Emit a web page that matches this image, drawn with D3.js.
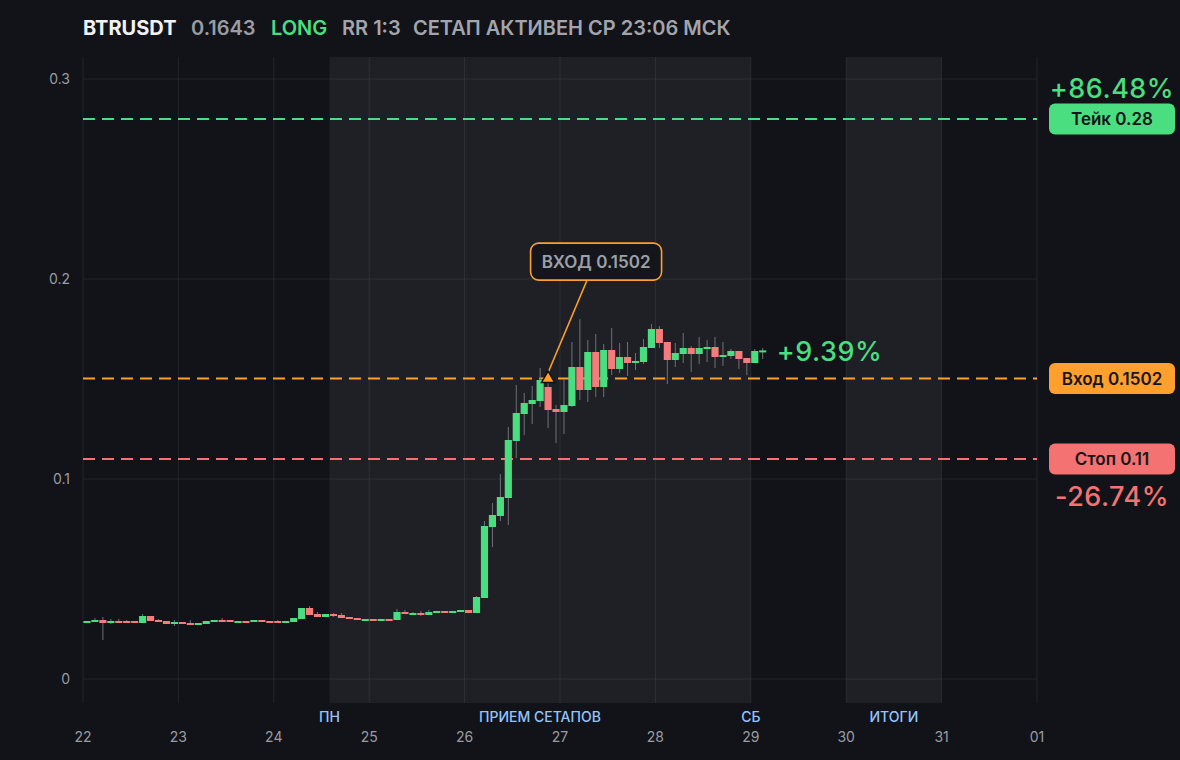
<!DOCTYPE html>
<html><head><meta charset="utf-8">
<script src="https://cdn.jsdelivr.net/npm/d3@7"></script>
<style>
html,body{margin:0;padding:0;background:#121318;}
svg{display:block;font-family:Inter,"Noto Sans",sans-serif;}
</style></head>
<body>
<svg id="chart" width="1180" height="760"></svg>
<script>
// ---------- DATA ----------
const dayLabels = ["22","23","24","25","26","27","28","29","30","31","01"];
const yTicks = [0, 0.1, 0.2, 0.3];
const candlesPerDay = 12; // 2h candles
const opens = [
0.028,0.0285,0.0295,0.028,0.029,0.029,0.029,0.028,0.0315,0.0295,
0.029,0.0275,0.0285,0.028,0.027,0.0275,0.0285,0.0295,0.0295,0.028,
0.029,0.0285,0.0295,0.029,0.029,0.028,0.0285,0.030,0.0355,0.0325,
0.031,0.0325,0.032,0.031,0.0305,0.029,0.030,0.029,0.030,0.0295,
0.0335,0.032,0.033,0.032,0.033,0.034,0.033,0.0335,0.0345,0.033,
0.0405,0.076,0.0815,0.0905,0.119,0.1325,0.1375,0.139,0.146,0.135,
0.1335,0.1365,0.156,0.1445,0.1635,0.146,0.1645,0.155,0.161,0.158,
0.1585,0.1655,0.175,0.1685,0.1595,0.1625,0.1655,0.1625,0.165,0.166,
0.161,0.1615,0.164,0.1605,0.158,0.1635];
const highs = [
0.029,0.0305,0.031,0.030,0.030,0.0295,0.029,0.0325,0.0315,0.030,
0.029,0.0295,0.0285,0.0295,0.028,0.029,0.0295,0.0305,0.0295,0.029,
0.029,0.0295,0.0295,0.029,0.0295,0.029,0.0305,0.0355,0.0365,0.0335,
0.0325,0.033,0.033,0.031,0.0305,0.030,0.030,0.030,0.030,0.035,
0.0345,0.0335,0.034,0.0345,0.034,0.034,0.034,0.0345,0.0345,0.0415,
0.079,0.088,0.1025,0.126,0.147,0.143,0.1465,0.1555,0.152,0.137,
0.150,0.1685,0.180,0.1695,0.1725,0.1675,0.1755,0.168,0.1685,0.163,
0.170,0.1775,0.1765,0.1685,0.168,0.173,0.1665,0.171,0.1695,0.171,
0.1685,0.165,0.164,0.1605,0.165,0.1655];
const lows = [
0.028,0.0285,0.0195,0.0275,0.028,0.028,0.028,0.028,0.029,0.0285,
0.0275,0.0265,0.0275,0.027,0.027,0.0275,0.0285,0.0285,0.0285,0.028,
0.028,0.0285,0.0285,0.028,0.028,0.028,0.0285,0.030,0.032,0.031,
0.031,0.031,0.0305,0.030,0.0295,0.029,0.029,0.029,0.029,0.0295,
0.0325,0.032,0.0315,0.032,0.033,0.033,0.033,0.0335,0.033,0.033,
0.0405,0.066,0.079,0.077,0.1105,0.122,0.1275,0.136,0.1255,0.118,
0.1225,0.136,0.1395,0.1385,0.141,0.141,0.152,0.153,0.1515,0.1545,
0.1575,0.1655,0.1655,0.1475,0.156,0.158,0.1535,0.1575,0.1585,0.1555,
0.1565,0.160,0.155,0.152,0.158,0.160];
const closes = [
0.029,0.0295,0.028,0.029,0.028,0.028,0.028,0.0315,0.029,0.0285,
0.0275,0.0285,0.0275,0.027,0.028,0.029,0.0295,0.0285,0.0285,0.029,
0.028,0.0295,0.0285,0.028,0.028,0.029,0.0305,0.0355,0.032,0.031,
0.0325,0.0315,0.0305,0.030,0.0295,0.030,0.029,0.030,0.029,0.0335,
0.0325,0.033,0.032,0.0335,0.034,0.033,0.034,0.0345,0.033,0.041,
0.0765,0.082,0.091,0.1195,0.133,0.138,0.1395,0.1495,0.1345,0.1335,
0.137,0.156,0.1445,0.1635,0.146,0.1645,0.155,0.161,0.158,0.159,
0.166,0.175,0.168,0.1595,0.163,0.1655,0.1625,0.1655,0.166,0.161,
0.162,0.164,0.160,0.158,0.164,0.1643];

const levelNames = ["Тейк","Вход","Стоп"];
const levelValues = [0.28, 0.1502, 0.11];
const levelPct = ["+86.48%", null, "-26.74%"];
const levelColors = ["#4ade80","#ff9f2e","#f47372"];

const zoneStarts = [2.583, 8];
const zoneEnds = [7, 9];
const zoneLabelText = ["ПН","ПРИЕМ СЕТАПОВ","СБ","ИТОГИ"];
const zoneLabelPos = [2.583, 4.79, 7, 8.5];

const entryCandle = 58;
const entryPrice = 0.1502;
const lastPrice = 0.1643;
const lastPctText = "+9.39%";

const headerParts = ["BTRUSDT","0.1643","LONG","RR 1:3","СЕТАП АКТИВЕН СР 23:06 МСК"];
const headerColors = ["#f2f2f4","#9a9ca4","#4ade80","#a3a5ad","#a3a5ad"];
const headerWeights = [700,600,600,600,600];

// ---------- CHART ----------
const W = 1180, H = 760;
const plot = {l:83, r:1037, t:57, b:703};
const svg = d3.select("#chart");
svg.append("rect").attr("width",W).attr("height",H).attr("fill","#121318");

const x = d3.scaleLinear().domain([0,10]).range([plot.l, plot.r]);
const y = d3.scaleLinear().domain([-0.012, 0.311]).range([plot.b, plot.t]);

// zones
svg.append("g").selectAll("rect").data(zoneStarts).join("rect")
  .attr("x", (d)=>x(d)).attr("width",(d,i)=>x(zoneEnds[i])-x(d))
  .attr("y", plot.t).attr("height", plot.b-plot.t)
  .attr("fill","#1f2025");

// grid
const grid = svg.append("g");
grid.selectAll("line.v").data(dayLabels).join("line").attr("class","v")
  .attr("x1",(d,i)=>x(i)).attr("x2",(d,i)=>x(i))
  .attr("y1",plot.t).attr("y2",plot.b)
  .attr("stroke","rgba(255,255,255,0.075)").attr("stroke-width",1);
grid.selectAll("line.h").data(yTicks).join("line").attr("class","h")
  .attr("x1",plot.l).attr("x2",plot.r)
  .attr("y1",d=>y(d)).attr("y2",d=>y(d))
  .attr("stroke","rgba(255,255,255,0.075)").attr("stroke-width",1);

// y axis labels
svg.append("g").selectAll("text").data(yTicks).join("text")
  .attr("x",70).attr("y",d=>y(d)).attr("dy","0.35em")
  .attr("text-anchor","end").attr("fill","#9a9ca4")
  .attr("font-size",14).text(d=>d===0?"0":d3.format(".1f")(d));

// x axis labels
svg.append("g").selectAll("text").data(dayLabels).join("text")
  .attr("x",(d,i)=>x(i)).attr("y",737).attr("dy","0.35em")
  .attr("text-anchor","middle").attr("fill","#9a9ca4")
  .attr("font-size",14).text(d=>d);

// zone labels
svg.append("g").selectAll("text").data(zoneLabelText).join("text")
  .attr("x",(d,i)=>x(zoneLabelPos[i])).attr("y",717).attr("dy","0.35em")
  .attr("text-anchor","middle").attr("fill","#93c5fd")
  .attr("font-size",14).attr("font-weight",500).text(d=>d);

// level lines
svg.append("g").selectAll("line").data(levelValues).join("line")
  .attr("x1",plot.l).attr("x2",plot.r)
  .attr("y1",d=>y(d)).attr("y2",d=>y(d))
  .attr("stroke",(d,i)=>levelColors[i]).attr("stroke-width",2)
  .attr("stroke-dasharray","12 7");

// candles
const step = x(1/candlesPerDay) - x(0);
const cg = svg.append("g");
opens.forEach((o,i)=>{
  const c = closes[i];
  const x0 = x(i/candlesPerDay);
  const cx = x0 + step/2;
  const up = c >= o;
  cg.append("line").attr("x1",cx).attr("x2",cx)
    .attr("y1",y(highs[i])).attr("y2",y(lows[i]))
    .attr("stroke","#6e7179").attr("stroke-width",1);
  const top = y(Math.max(o,c)), bot = y(Math.min(o,c));
  cg.append("rect").attr("x",x0+0.4).attr("width",step-0.8)
    .attr("y",top).attr("height",Math.max(2,bot-top))
    .attr("fill", up ? "#4ade80" : "#f47c7c");
});

// last pct
const lastX = x((opens.length)/candlesPerDay);
svg.append("text").attr("x",lastX+10).attr("y",y(lastPrice)+1).attr("dy","0.35em")
  .attr("fill","#4ade80").attr("font-size",27).attr("font-weight",500)
  .attr("letter-spacing",0.5).text(lastPctText);

// entry marker + callout
const mx = x(entryCandle/candlesPerDay) + step/2;
const my = y(entryPrice);
const bx = mx + 48, by = my - 117;
const bw = 131, bh = 37;
svg.append("line").attr("x1",bx-9).attr("y1",by+bh/2).attr("x2",mx).attr("y2",my-6)
  .attr("stroke","#ff9f2e").attr("stroke-width",1.5);
svg.append("rect").attr("x",bx-bw/2).attr("y",by-bh/2).attr("width",bw).attr("height",bh)
  .attr("rx",8).attr("fill","#15161b").attr("stroke","#ff9f2e").attr("stroke-width",1.6);
svg.append("text").attr("x",bx).attr("y",by).attr("dy","0.36em").attr("text-anchor","middle")
  .attr("fill","#9ca0a8").attr("font-size",17).attr("font-weight",600).text("ВХОД " + entryPrice);
svg.append("path").attr("d", d3.symbol(d3.symbolTriangle, 75)())
  .attr("transform",`translate(${mx},${my})`)
  .attr("fill","#ff9f2e").attr("stroke","#101114").attr("stroke-width",1.5);

// right labels
const rl = svg.append("g");
levelValues.forEach((v,i)=>{
  const cy = y(v);
  rl.append("rect").attr("x",1049).attr("y",cy-15.5).attr("width",126).attr("height",31)
    .attr("rx",6).attr("fill",levelColors[i]);
  rl.append("text").attr("x",1112).attr("y",cy).attr("dy","0.36em").attr("text-anchor","middle")
    .attr("fill","#16161a").attr("font-size",17).attr("font-weight",600)
    .text(levelNames[i]+" "+v);
  if(levelPct[i]){
    const ty = i===0 ? cy-31 : cy+37;
    rl.append("text").attr("x",1112).attr("y",ty).attr("dy","0.36em").attr("text-anchor","middle")
      .attr("fill",levelColors[i]).attr("font-size",27).attr("font-weight",500)
      .attr("letter-spacing",0.5).text(levelPct[i]);
  }
});

// header
const hx = [83,191,271,342,413];
svg.append("g").selectAll("text").data(headerParts).join("text")
  .attr("x",(d,i)=>hx[i]).attr("y",35)
  .attr("fill",(d,i)=>headerColors[i]).attr("font-weight",(d,i)=>headerWeights[i])
  .attr("font-size",20).text(d=>d);
</script>
</body></html>
